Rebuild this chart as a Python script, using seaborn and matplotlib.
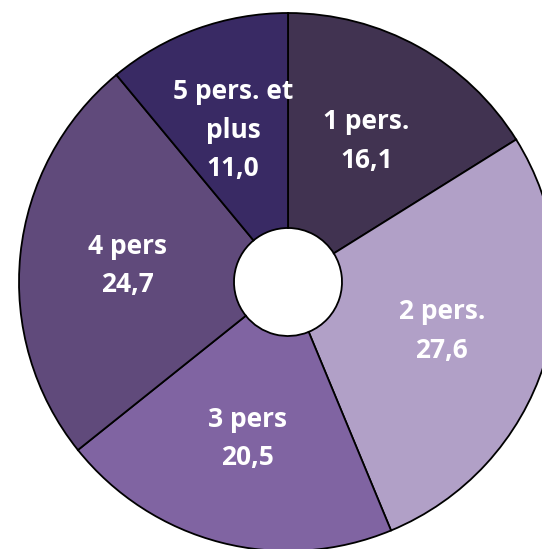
import matplotlib
matplotlib.use('Agg')
import matplotlib.pyplot as plt
import seaborn as sns

# Data
categories = ['1 pers.', '2 pers.', '3 pers', '4 pers', '5 pers. et\nplus']
values = [16.1, 27.6, 20.5, 24.7, 11.0]
value_labels = ['16,1', '27,6', '20,5', '24,7', '11,0']
colors = ['#413351', '#b1a0c7', '#8064a2', '#604a7b', '#392a64']

sns.set_theme(style='white')
plt.rcParams['font.family'] = ['Open Sans', 'DejaVu Sans']

fig = plt.figure(figsize=(5.42, 5.49), dpi=100)
ax = fig.add_axes([0, 0, 1, 1])

labels = [f'{c}\n{v}' for c, v in zip(categories, value_labels)]
wedges, texts = ax.pie(
    values, labels=labels, colors=colors, startangle=90, counterclock=False,
    radius=269, center=(288, 267), labeldistance=0.6,
    wedgeprops=dict(width=215, edgecolor='black', linewidth=1.3),
    textprops=dict(color='white', fontsize=19, fontweight='bold', linespacing=1.55),
    frame=True,
)
for t in texts:
    t.set_horizontalalignment('center')
    t.set_verticalalignment('center')

ax.set_xlim(0, 542)
ax.set_ylim(0, 549)
ax.set_aspect('equal')
ax.axis('off')

fig.savefig('out.png', dpi=100)
